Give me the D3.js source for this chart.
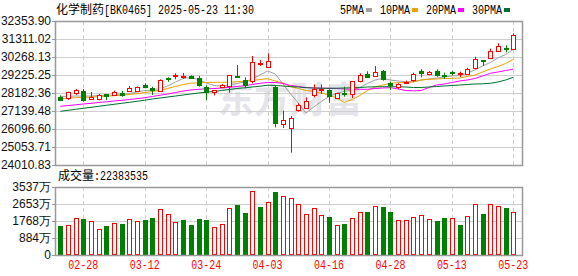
<!DOCTYPE html>
<html>
<head>
<meta charset="utf-8">
<script src="https://cdn.jsdelivr.net/npm/d3@7"></script>
<style>
  html, body { margin: 0; padding: 0; background: #fff; }
  svg { display: block; }
  .mono { font-family: "Liberation Mono", "DejaVu Sans Mono", monospace; font-size: 12px; }
  .cjk { font-family: "Noto Sans CJK SC", sans-serif; font-size: 12px; }
  .axisText { font-family: "Liberation Sans", Arial, sans-serif; font-size: 12px; fill: #111; }
</style>
</head>
<body>
<div id="chart"></div>
<script>
//----------------------------------------
// Data
//----------------------------------------
const dates = ['02-25','02-26','02-27','02-28','03-03','03-04','03-05','03-06','03-07','03-10',
  '03-11','03-12','03-13','03-14','03-17','03-18','03-19','03-20','03-21','03-24',
  '03-25','03-26','03-27','03-28','03-31','04-01','04-02','04-03','04-07','04-08',
  '04-09','04-10','04-11','04-14','04-15','04-16','04-17','04-18','04-21','04-22',
  '04-23','04-24','04-25','04-28','04-29','04-30','05-06','05-07','05-08','05-09',
  '05-12','05-13','05-14','05-15','05-16','05-19','05-20','05-21','05-22','05-23'];

const opens = [27970,27873,28221,28279,27815,27854,28125,28067,28163,28318,
  28260,28620,28491,28317,29032,29167,29150,29186,29051,28549,
  28240,28549,28588,29186,28935,28839,29900,29708,28549,26406,
  26135,27178,27333,28028,28380,28356,27854,28202,28124,28839,
  29283,29148,29438,28742,28492,28780,28920,29460,29270,29476,
  29250,29380,29302,29283,29611,30075,30210,30596,30770,30712];

const highs = [28047,28259,28414,28414,28240,28125,28125,28318,28298,28588,
  28560,28742,28549,28974,29090,29322,29340,29206,29167,28626,
  28356,28704,29225,29805,29090,30326,30094,30480,28627,27159,
  26850,27584,27931,28684,28684,28400,28200,28549,28858,29322,
  29438,29747,29515,28839,28742,28900,29360,29560,29460,29553,
  29360,29457,29418,29650,30287,30094,30751,31060,30944,31639];

const lows = [27777,27777,28067,27680,27777,27757,27777,28009,27970,28279,
  28240,28453,28066,28298,28839,28974,29013,29013,28549,27777,
  28047,28510,28201,29140,28453,28742,29747,29708,26193,26154,
  24725,27101,27300,27931,28124,27622,27830,27970,27893,28800,
  29090,29129,28897,28356,28430,28760,28840,29090,29200,29129,
  28993,29206,29109,29244,29573,29747,30172,30580,30538,30712];

const closes = [27815,28221,28376,27777,27931,28086,28009,28260,28067,28480,
  28520,28505,28356,28960,29000,29210,29190,29051,28646,28279,
  28356,28665,29225,29148,28665,29960,29935,30036,26463,26618,
  26734,27468,27719,28400,28420,28009,28163,28144,28858,29206,
  29129,29380,28974,28627,28684,28820,29270,29370,29400,29225,
  29210,29341,29322,29553,30133,30036,30596,30905,30712,31543];

// volume, in 万
const volumes = [1508,1560,1924,1888,1768,1352,1508,1664,1612,1872,
  1768,1820,1924,2376,2116,1700,1820,1560,1872,1820,
  1440,1596,2428,2600,2184,3328,2496,2740,3276,3084,
  2948,2636,2116,2428,2064,1976,1544,1612,1908,2220,
  2236,2532,2496,2236,1804,1804,1960,2064,1856,1752,
  1924,1908,1560,2012,2636,2132,2636,2532,2444,2238];

const ma5 = [27979,27991,28008,28008,28008,28037,28049,28066,28095,28153,
  28240,28327,28356,28443,28588,28820,29022,29080,28964,28762,
  28617,28588,28646,28733,28820,28993,29225,29457,29283,28704,
  28124,27603,27023,27371,27690,27979,28165,28281,28356,28501,
  28733,28935,29022,28935,28878,28837,28849,28935,28993,29051,
  29109,29167,29196,29341,29515,29747,29949,30210,30413,30714];

const ma10 = [27852,27881,27910,27933,27950,27968,27997,28026,28055,28095,
  28142,28211,28269,28356,28443,28559,28675,28750,28773,28791,
  28802,28802,28808,28837,28866,28906,28964,29011,28878,28762,
  28559,28443,28327,28281,28182,28066,27893,27632,27806,28037,
  28327,28530,28646,28744,28779,28802,28820,28935,28976,28993,
  29022,29034,29051,29138,29225,29399,29573,29718,29891,30135];

const ma20 = [27412,27458,27498,27545,27585,27632,27672,27719,27759,27806,
  27852,27910,27979,28055,28124,28211,28298,28356,28397,28426,
  28443,28472,28512,28559,28605,28675,28744,28791,28791,28733,
  28617,28559,28501,28472,28460,28455,28443,28414,28402,28397,
  28397,28443,28472,28489,28414,28327,28310,28327,28501,28646,
  28704,28791,28878,28935,29022,29167,29324,29399,29486,29561];

const ma30 = [27122,27180,27238,27296,27354,27412,27470,27528,27585,27643,
  27701,27765,27835,27893,27950,28008,28066,28124,28182,28229,
  28269,28327,28385,28443,28483,28530,28576,28634,28617,28588,
  28547,28530,28489,28472,28460,28455,28460,28472,28483,28501,
  28530,28541,28547,28547,28541,28530,28501,28501,28530,28559,
  28588,28617,28646,28675,28704,28715,28744,28820,28935,29092];

const priceTicks = [24010.83,25053.71,26096.60,27139.48,28182.36,29225.25,30268.13,31311.02,32353.90];
const volumeTicks = [0,884,1768,2653,3537];
const dateTicks = ['02-28','03-12','03-24','04-03','04-16','04-28','05-13','05-23'];

const maNames = ['5PMA','10PMA','20PMA','30PMA'];
const maColors = ['#a0a0a0','#f0a000','#ff00ff','#006f30'];

//----------------------------------------
// Layout
//----------------------------------------
const width = 578, height = 276;
const left = 55, right = 522;
const kTop = 21, kBottom = 165;
const vTop = 187, vBottom = 255;
const upColor = '#ff0000', downColor = '#008000';

const svg = d3.select('#chart').append('svg')
  .attr('width', width)
  .attr('height', height);

const x = d3.scalePoint().domain(dates).range([60.3, 513.3]);
const y = d3.scaleLinear()
  .domain([priceTicks[0], priceTicks[priceTicks.length - 1]])
  .range([kBottom, kTop]);
const yv = d3.scaleLinear()
  .domain([0, volumeTicks[volumeTicks.length - 1]])
  .range([vBottom, vTop]);

const px = d => Math.round(x(d));

//----------------------------------------
// Watermark
//----------------------------------------
svg.append('text')
  .attr('x', 290)
  .attr('y', 113)
  .attr('text-anchor', 'middle')
  .attr('class', 'cjk')
  .style('font-size', '36px')
  .style('font-weight', 'bold')
  .attr('fill', '#e4e4ea')
  .text('东方财富');

//----------------------------------------
// Grid lines
//----------------------------------------
const grid = svg.append('g');
grid.selectAll('.hk')
  .data(priceTicks)
  .enter()
  .append('line')
  .attr('x1', left).attr('x2', right)
  .attr('y1', d => Math.round(y(d)) + 0.5)
  .attr('y2', d => Math.round(y(d)) + 0.5)
  .attr('stroke', '#cfcfcf');

grid.selectAll('.hv')
  .data(volumeTicks)
  .enter()
  .append('line')
  .attr('x1', left).attr('x2', right)
  .attr('y1', d => Math.round(yv(d)) + 0.5)
  .attr('y2', d => Math.round(yv(d)) + 0.5)
  .attr('stroke', '#cfcfcf');

[[kTop, kBottom], [vTop, vBottom]].forEach(([t, b]) => {
  grid.selectAll(null)
    .data(dateTicks)
    .enter()
    .append('line')
    .attr('x1', d => px(d) + 0.5).attr('x2', d => px(d) + 0.5)
    .attr('y1', t).attr('y2', b)
    .attr('stroke', '#cfcfcf')
    .attr('stroke-dasharray', '4,3');
});

//----------------------------------------
// Moving averages
//----------------------------------------
[ma5, ma10, ma20, ma30].forEach((series, k) => {
  const line = d3.line()
    .x((d, i) => x(dates[i]))
    .y(d => y(d));
  svg.append('path')
    .datum(series)
    .attr('d', line)
    .attr('fill', 'none')
    .attr('stroke', maColors[k])
    .attr('stroke-width', 1);
});

//----------------------------------------
// Candles
//----------------------------------------
const candles = dates.map((d, i) => ({
  date: d, o: opens[i], h: highs[i], l: lows[i], c: closes[i], up: closes[i] >= opens[i]
}));

const cg = svg.append('g');
cg.selectAll('.wick')
  .data(candles)
  .enter()
  .append('line')
  .attr('x1', d => px(d.date) + 0.5)
  .attr('x2', d => px(d.date) + 0.5)
  .attr('y1', d => y(d.h))
  .attr('y2', d => y(d.l))
  .attr('stroke', d => d.up ? upColor : downColor);

cg.selectAll('.body')
  .data(candles)
  .enter()
  .append('rect')
  .attr('x', d => px(d.date) - 1.5)
  .attr('width', 4)
  .attr('y', d => Math.round(y(Math.max(d.o, d.c))) + 0.5)
  .attr('height', d => Math.max(1, Math.round(Math.abs(y(d.o) - y(d.c)))))
  .attr('fill', d => d.up ? '#fff' : downColor)
  .attr('stroke', d => d.up ? upColor : downColor);

//----------------------------------------
// Volume bars (colour against previous close)
//----------------------------------------
svg.append('g').selectAll('rect')
  .data(volumes)
  .enter()
  .append('rect')
  .attr('x', (d, i) => px(dates[i]) - 1.5)
  .attr('width', 4)
  .attr('y', d => Math.round(yv(d)) + 0.5)
  .attr('height', d => vBottom - Math.round(yv(d)) - 1)
  .attr('fill', (d, i) => {
    const up = i === 0 ? closes[0] >= opens[0] : closes[i] >= closes[i - 1];
    return up ? '#fff' : downColor;
  })
  .attr('stroke', (d, i) => {
    const up = i === 0 ? closes[0] >= opens[0] : closes[i] >= closes[i - 1];
    return up ? upColor : downColor;
  });

//----------------------------------------
// Frames, ticks and axis labels
//----------------------------------------
[[kTop, kBottom], [vTop, vBottom]].forEach(([t, b]) => {
  svg.append('rect')
    .attr('x', left + 0.5).attr('y', t + 0.5)
    .attr('width', right - left).attr('height', b - t)
    .attr('fill', 'none')
    .attr('stroke', '#999')
    .attr('stroke-width', 1.5);
});

svg.selectAll('.ktick')
  .data(priceTicks)
  .enter()
  .append('line')
  .attr('x1', left - 3).attr('x2', left)
  .attr('y1', d => Math.round(y(d)) + 0.5)
  .attr('y2', d => Math.round(y(d)) + 0.5)
  .attr('stroke', '#999');

svg.selectAll('.vtick')
  .data(volumeTicks)
  .enter()
  .append('line')
  .attr('x1', left - 3).attr('x2', left)
  .attr('y1', d => Math.round(yv(d)) + 0.5)
  .attr('y2', d => Math.round(yv(d)) + 0.5)
  .attr('stroke', '#999');

svg.selectAll('.klabel')
  .data(priceTicks)
  .enter()
  .append('text')
  .attr('class', 'axisText')
  .attr('x', left - 4)
  .attr('y', d => y(d))
  .attr('dy', '0.36em')
  .attr('text-anchor', 'end')
  .text(d => d.toFixed(2));

svg.selectAll('.vlabel')
  .data(volumeTicks)
  .enter()
  .append('text')
  .attr('class', 'axisText')
  .attr('x', left - 4)
  .attr('y', d => yv(d))
  .attr('dy', '0.36em')
  .attr('text-anchor', 'end')
  .text(d => d === 0 ? '0' : d + '万');

svg.selectAll('.dlabel')
  .data(dateTicks)
  .enter()
  .append('text')
  .attr('class', 'mono')
  .attr('x', d => x(d))
  .attr('y', 269)
  .attr('text-anchor', 'middle')
  .attr('textLength', d => d.length * 6)
  .attr('lengthAdjust', 'spacingAndGlyphs')
  .attr('fill', upColor)
  .text(d => d);

//----------------------------------------
// Header, legend and volume caption
//----------------------------------------
svg.append('text').attr('class', 'cjk')
  .attr('x', 56).attr('y', 14).attr('fill', '#000')
  .text('化学制药');
const sub = '[BK0465] 2025-05-23 11:30';
svg.append('text').attr('class', 'mono')
  .attr('x', 104).attr('y', 14).attr('fill', '#000')
  .attr('textLength', sub.length * 6)
  .attr('lengthAdjust', 'spacingAndGlyphs')
  .text(sub);

let lx = 340;
maNames.forEach((name, k) => {
  svg.append('text').attr('class', 'mono')
    .attr('x', lx).attr('y', 14).attr('fill', '#000')
    .attr('textLength', name.length * 6)
    .attr('lengthAdjust', 'spacingAndGlyphs')
    .text(name);
  const sx = lx + name.length * 6 + 2;
  svg.append('rect')
    .attr('x', sx).attr('y', 8)
    .attr('width', 6).attr('height', 4)
    .attr('fill', maColors[k]);
  lx = sx + 6 + 8;
});

svg.append('text').attr('class', 'cjk')
  .attr('x', 58).attr('y', 180).attr('fill', '#000')
  .text('成交量');
const vcap = ':22383535';
svg.append('text').attr('class', 'mono')
  .attr('x', 94).attr('y', 180).attr('fill', '#000')
  .attr('textLength', vcap.length * 6)
  .attr('lengthAdjust', 'spacingAndGlyphs')
  .text(vcap);
</script>
</body>
</html>
